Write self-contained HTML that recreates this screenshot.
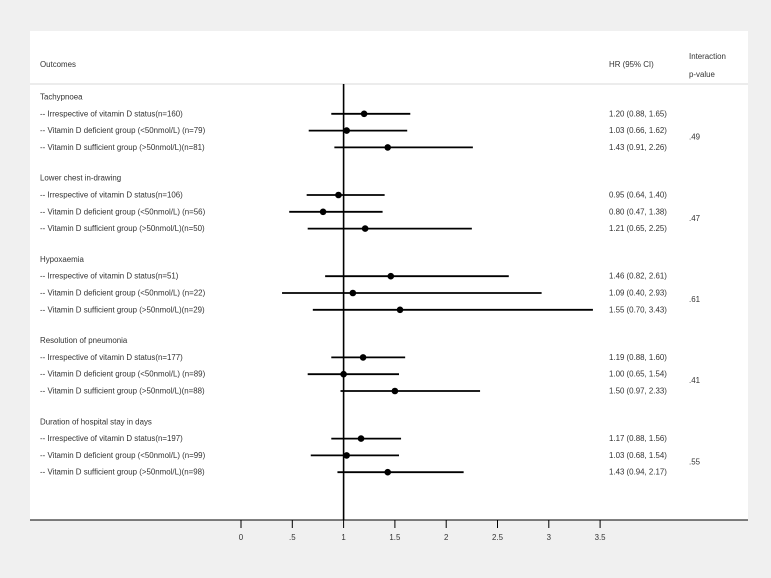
<!DOCTYPE html>
<html><head><meta charset="utf-8"><style>
html,body{margin:0;padding:0;background:#f0f0f0;}
svg{display:block;font-family:"Liberation Sans",Arial,sans-serif;}
text{fill:#333;font-size:7.9px;}
</style></head><body>
<svg id="chart" width="771" height="578" viewBox="0 0 771 578">
<rect x="0" y="0" width="771" height="578" fill="#f0f0f0"/>
<rect x="30" y="31" width="718" height="489" fill="#ffffff"/>
<line x1="30" y1="84" x2="748" y2="84" stroke="#d8d8d8" stroke-width="1"/>
<text x="40" y="67">Outcomes</text>
<text x="609" y="67">HR (95% CI)</text>
<text x="689" y="59">Interaction</text>
<text x="689" y="77">p-value</text>
<g id="marks"></g>
</svg>
<script>
const groups = ["Tachypnoea","Lower chest in-drawing","Hypoxaemia","Resolution of pneumonia","Duration of hospital stay in days"];
const rowLabels = [
 ["-- Irrespective of vitamin D status(n=160)","-- Vitamin D deficient group (<50nmol/L) (n=79)","-- Vitamin D sufficient group (>50nmol/L)(n=81)"],
 ["-- Irrespective of vitamin D status(n=106)","-- Vitamin D deficient group (<50nmol/L) (n=56)","-- Vitamin D sufficient group (>50nmol/L)(n=50)"],
 ["-- Irrespective of vitamin D status(n=51)","-- Vitamin D deficient group (<50nmol/L) (n=22)","-- Vitamin D sufficient group (>50nmol/L)(n=29)"],
 ["-- Irrespective of vitamin D status(n=177)","-- Vitamin D deficient group (<50nmol/L) (n=89)","-- Vitamin D sufficient group (>50nmol/L)(n=88)"],
 ["-- Irrespective of vitamin D status(n=197)","-- Vitamin D deficient group (<50nmol/L) (n=99)","-- Vitamin D sufficient group (>50nmol/L)(n=98)"]
];
const hr =   [[1.20,1.03,1.43],[0.95,0.80,1.21],[1.46,1.09,1.55],[1.19,1.00,1.50],[1.17,1.03,1.43]];
const lower =[[0.88,0.66,0.91],[0.64,0.47,0.65],[0.82,0.40,0.70],[0.88,0.65,0.97],[0.88,0.68,0.94]];
const upper =[[1.65,1.62,2.26],[1.40,1.38,2.25],[2.61,2.93,3.43],[1.60,1.54,2.33],[1.56,1.54,2.17]];
const pvals = [".49",".47",".61",".41",".55"];
const ticks = [0,0.5,1,1.5,2,2.5,3,3.5];
const tickLabels = ["0",".5","1","1.5","2","2.5","3","3.5"];

const NS="http://www.w3.org/2000/svg";
const g=document.getElementById('marks');
const xScale=v=>241+v*102.6;
const groupY=i=>97+i*81.2;
const rowY=(i,j)=>groupY(i)+16.8*(j+1);
function mk(tag,attrs,txt){const e=document.createElementNS(NS,tag);for(const k in attrs)e.setAttribute(k,attrs[k]);if(txt!==undefined)e.textContent=txt;g.appendChild(e);return e;}
const fmt=v=>v.toFixed(2);

const ref=mk('line',{x1:xScale(1),y1:84,x2:xScale(1),y2:520,stroke:'#000','stroke-width':1.6});



groups.forEach((gn,i)=>{
 const t=mk('text',{x:40,y:groupY(i)+2.5},gn);
 
 
 rowLabels[i].forEach((lab,j)=>{
  const y=rowY(i,j);
  const tl=mk('text',{x:40,y:y+2.5},lab);
  
  
  const ci=mk('line',{x1:xScale(lower[i][j]),y1:y,x2:xScale(upper[i][j]),y2:y,stroke:'#000','stroke-width':1.8});
  
  
  const pt=mk('circle',{cx:xScale(hr[i][j]),cy:y,r:3.3,fill:'#000'});
  
  
  const ht=mk('text',{x:609,y:y+2.5},fmt(hr[i][j])+' ('+fmt(lower[i][j])+', '+fmt(upper[i][j])+')');
  
  
 });
 const pv=mk('text',{x:689,y:rowY(i,1)+9},pvals[i]);
 
 
});

const ax=mk('line',{x1:30,y1:520,x2:748,y2:520,stroke:'#000','stroke-width':1});


ticks.forEach((v,k)=>{
 const tk=mk('line',{x1:xScale(v),y1:520,x2:xScale(v),y2:528,stroke:'#000','stroke-width':1});
 
 
 const tx=mk('text',{x:xScale(v),y:540,'text-anchor':'middle'},tickLabels[k]);
 
 
});
</script>
</body></html>
